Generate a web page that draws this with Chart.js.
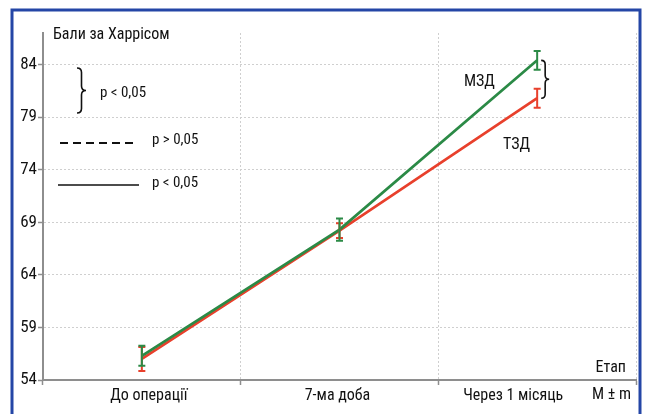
<!DOCTYPE html>
<html>
<head>
<meta charset="utf-8">
<script src="https://cdn.jsdelivr.net/npm/chart.js@4"></script>
<style>
  html, body { margin: 0; padding: 0; background: #fff; }
  #wrap { width: 648px; height: 414px; position: relative; }
</style>
</head>
<body>
<div id="wrap"><canvas id="chart" width="648" height="414"></canvas></div>
<script>
/* ---------------- data ---------------- */
const stages  = ['До операції', '7-ма доба', 'Через 1 місяць'];
const mzdMean = [56.3, 68.3, 84.4];   // МЗД (green)
const mzdErr  = [0.95, 1.05, 0.9];
const tzdMean = [56.0, 68.2, 80.8];   // ТЗД (red)
const tzdErr  = [1.15, 0.7, 0.9];
const yTicks  = [54, 59, 64, 69, 74, 79, 84];

const GREEN = '#2b8a46';
const RED   = '#e8402c';
const AXIS  = '#8e8e8e';
const INK   = '#111';
const FONT  = "'Liberation Sans Narrow', 'Arial Narrow', 'Roboto Condensed', sans-serif";

// small left/right nudge of category labels, as in the original layout
const labelNudge = [7, -2, -24];

/* right-pointing curly brace from (x,y1) to (x,y2), w = depth */
function brace(ctx, x, y1, y2, w) {
  const ym = (y1 + y2) / 2, r = w / 2;
  ctx.beginPath();
  ctx.moveTo(x, y1);
  ctx.quadraticCurveTo(x + r, y1, x + r, y1 + r);
  ctx.lineTo(x + r, ym - r);
  ctx.quadraticCurveTo(x + r, ym, x + w, ym);
  ctx.quadraticCurveTo(x + r, ym, x + r, ym + r);
  ctx.lineTo(x + r, y2 - r);
  ctx.quadraticCurveTo(x + r, y2, x, y2);
  ctx.stroke();
}

/* ---- error bars (M ± m), drawn through the chart's own scales ---- */
const errorBars = {
  id: 'errorBars',
  afterDatasetsDraw(chart) {
    const { ctx, scales: { x, y } } = chart;
    const sets = [[tzdMean, tzdErr, RED], [mzdMean, mzdErr, GREEN]];
    ctx.save();
    ctx.lineWidth = 2;
    sets.forEach(([m, e, col]) => {
      ctx.strokeStyle = col;
      m.forEach((v, i) => {
        const px = x.getPixelForValue(i);
        const top = y.getPixelForValue(v + e[i]);
        const bot = y.getPixelForValue(v - e[i]);
        ctx.beginPath();
        ctx.moveTo(px, top); ctx.lineTo(px, bot);
        ctx.moveTo(px - 3.5, top); ctx.lineTo(px + 3.5, top);
        ctx.moveTo(px - 3.5, bot); ctx.lineTo(px + 3.5, bot);
        ctx.stroke();
      });
    });
    ctx.restore();
  }
};

/* ---- texts, legend keys, brace, frame ---- */
const annotations = {
  id: 'annotations',
  afterDraw(chart) {
    const { ctx, scales: { x, y } } = chart;
    ctx.save();
    ctx.fillStyle = INK;
    ctx.strokeStyle = INK;
    ctx.textBaseline = 'alphabetic';

    // category labels
    ctx.font = '16px ' + FONT;
    ctx.textAlign = 'center';
    stages.forEach((s, i) => ctx.fillText(s, x.getPixelForValue(i) + labelNudge[i], 400));

    // axis titles
    ctx.textAlign = 'left';
    ctx.fillText('Бали за Харрісом', 53, 39);
    ctx.textAlign = 'right';
    ctx.fillText('Етап', 626, 372);
    ctx.fillText('M ± m', 631, 399);

    // series names
    ctx.textAlign = 'left';
    ctx.fillText('МЗД', 464, 86);
    ctx.fillText('ТЗД', 503, 149);

    // legend keys
    ctx.font = '15px ' + FONT;
    ctx.lineWidth = 1.6;
    brace(ctx, 77, 68, 113, 9);
    ctx.fillText('p < 0,05', 100, 97);

    ctx.lineWidth = 2;
    ctx.setLineDash([8, 5]);
    ctx.beginPath(); ctx.moveTo(60, 143); ctx.lineTo(138, 143); ctx.stroke();
    ctx.setLineDash([]);
    ctx.fillText('p > 0,05', 152, 144);

    ctx.lineWidth = 1.5;
    ctx.beginPath(); ctx.moveTo(58, 185); ctx.lineTo(139, 185); ctx.stroke();
    ctx.fillText('p < 0,05', 152, 187);

    // brace between the two series at the last stage
    const last = stages.length - 1;
    ctx.lineWidth = 1.6;
    brace(ctx, x.getPixelForValue(last) + 4,
          y.getPixelForValue(mzdMean[last]), y.getPixelForValue(tzdMean[last]), 8);

    // blue frame (bottom edge runs off the picture)
    ctx.strokeStyle = '#2446a6';
    ctx.lineWidth = 3;
    ctx.strokeRect(12, 10, 628, 430);
    ctx.restore();
  }
};

new Chart(document.getElementById('chart'), {
  type: 'line',
  data: {
    labels: stages,
    datasets: [
      { label: 'МЗД', data: mzdMean, borderColor: GREEN, borderWidth: 2.7,
        pointRadius: 0, tension: 0, fill: false },
      { label: 'ТЗД', data: tzdMean, borderColor: RED, borderWidth: 2.7,
        pointRadius: 0, tension: 0, fill: false }
    ]
  },
  options: {
    responsive: false,
    animation: false,
    layout: { padding: { top: 33, right: 12, left: 0, bottom: 0 } },
    plugins: { legend: { display: false }, tooltip: { enabled: false } },
    scales: {
      x: {
        offset: true,
        grid: { offset: true, color: '#cfcfcf', lineWidth: 1,
                tickLength: 5, tickColor: AXIS, tickWidth: 1.5 },
        border: { color: AXIS, width: 2, dash: [2, 2] },
        ticks: { display: false },
        afterFit(s) { s.height = 34; }
      },
      y: {
        min: 54, max: 87,
        afterBuildTicks(s) { s.ticks = yTicks.map(v => ({ value: v })); },
        grid: { color: '#cfcfcf', lineWidth: 1,
                tickLength: 5, tickColor: AXIS, tickWidth: 1.5 },
        border: { color: AXIS, width: 2, dash: [2, 2] },
        ticks: { color: INK, padding: 1, autoSkip: false,
                 font: { family: FONT, size: 17 } },
        afterFit(s) { s.width = 43; }
      }
    }
  },
  plugins: [errorBars, annotations]
});
</script>
</body>
</html>
